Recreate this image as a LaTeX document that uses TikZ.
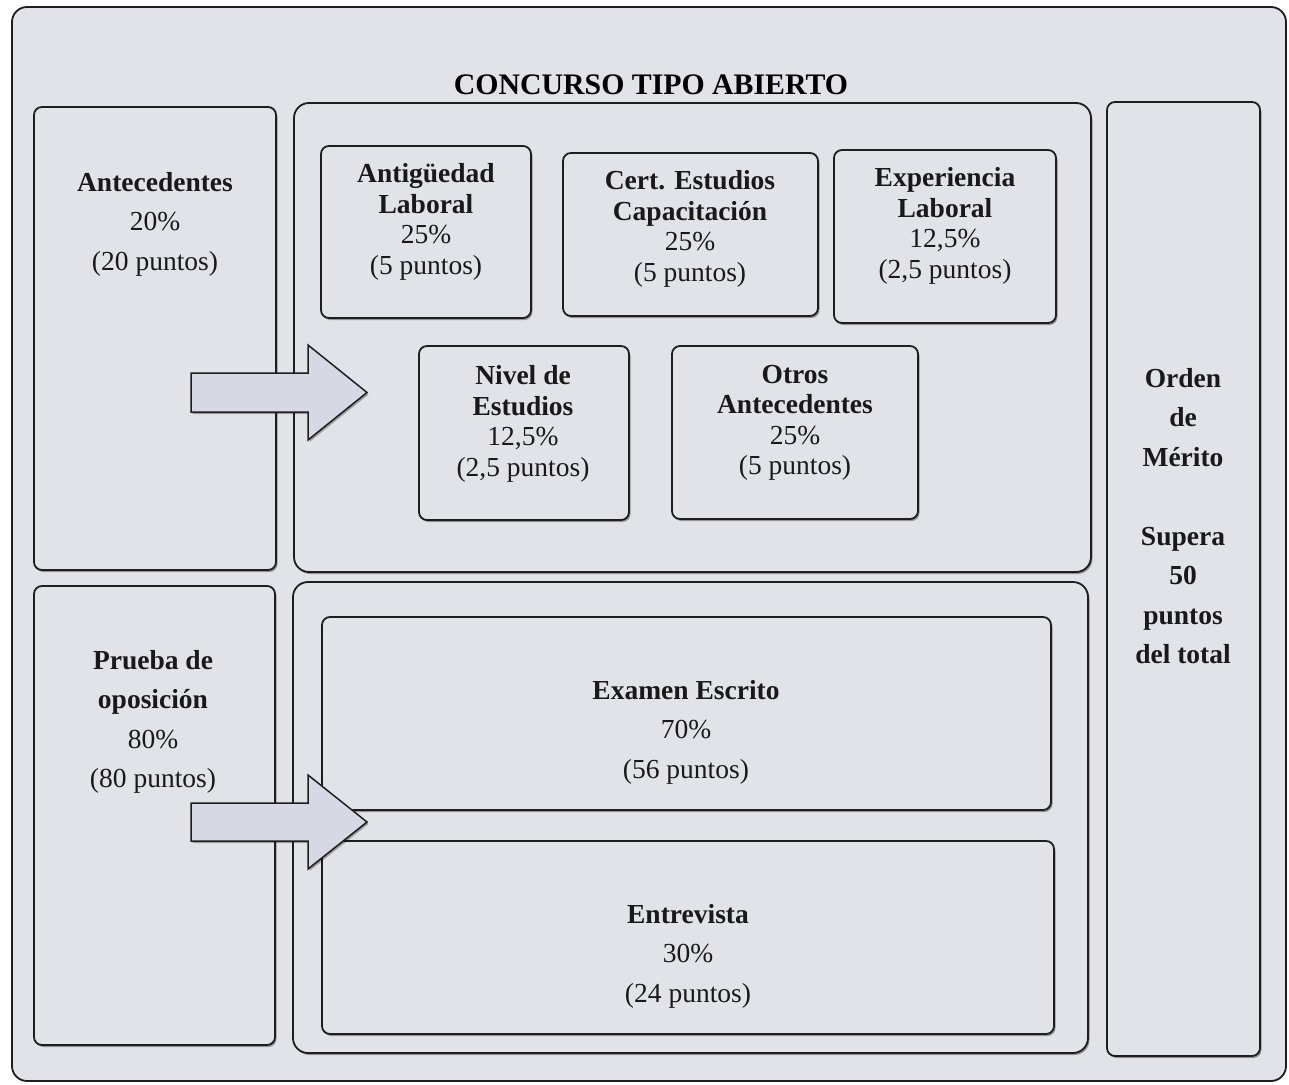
\documentclass[tikz,border=0pt]{standalone}
\usepackage{fontspec}
\setmainfont{Liberation Serif}
\usetikzlibrary{shadows}
\definecolor{bgc}{RGB}{226,226,233}
\definecolor{arrc}{RGB}{216,216,228}
\definecolor{linec}{RGB}{30,30,30}
\begin{document}
\begin{tikzpicture}[x=1pt,y=-1pt,
  box/.style={draw=linec,line width=1.8pt,fill=bgc,rounded corners=8pt,inner sep=0pt,
    drop shadow={shadow xshift=1.5pt,shadow yshift=-2pt,fill=black,opacity=0.35}},
  cont/.style={box,rounded corners=15pt},
  txt/.style={align=center,inner sep=0pt,text=black!90,font=\fontsize{27.5}{30.5}\selectfont},
  txtw/.style={align=center,inner sep=0pt,text=black!90,font=\fontsize{27.5}{39.5}\selectfont},
  arrowshape/.style={draw=linec,line width=1.5pt,fill=arrc,
    drop shadow={shadow xshift=1.5pt,shadow yshift=-2pt,fill=black,opacity=0.3}}]
\fill[white] (0,0) rectangle (1289,1084);
\path[use as bounding box] (0,0) rectangle (1289,1084);
% outer frame
\draw[draw=linec,line width=1.8pt,fill=bgc,rounded corners=15pt] (12,7) rectangle (1286,1081);
% title
\node[inner sep=0pt,font=\fontsize{29.8}{32}\selectfont\bfseries] (title) at (651,85) {CONCURSO TIPO ABIERTO};
% left boxes
\node[box,minimum width=242pt,minimum height=463pt] (antec) at (155,338.5) {};
\node[box,minimum width=241pt,minimum height=459pt] (prueba) at (154.5,815.5) {};
% containers
\node[cont,minimum width=797pt,minimum height=469pt] (upper) at (692.5,337.5) {};
\node[cont,minimum width=795pt,minimum height=471pt] (lower) at (690.5,817.5) {};
% right box
\node[box,minimum width=153pt,minimum height=954pt] (orden) at (1183.5,579) {};
% inner boxes upper
\node[box,minimum width=210pt,minimum height=172pt] (antig) at (426,232) {};
\node[box,minimum width=255pt,minimum height=163pt] (cert) at (690.5,234.5) {};
\node[box,minimum width=222pt,minimum height=173pt] (exper) at (945,236.5) {};
\node[box,minimum width=210pt,minimum height=174pt] (nivel) at (524,433) {};
\node[box,minimum width=246pt,minimum height=173pt] (otros) at (795,432.5) {};
% inner boxes lower
\node[box,minimum width=729pt,minimum height=193pt] (examen) at (686.5,713.5) {};
\node[box,minimum width=732pt,minimum height=193pt] (entrev) at (688,937.5) {};
% arrows
\draw[arrowshape] (191,373) -- (308,373) -- (308,345) -- (367,392.5) -- (308,440) -- (308,412) -- (191,412) -- cycle;
\draw[arrowshape] (191,803) -- (308,803) -- (308,775) -- (367,822) -- (308,869) -- (308,841) -- (191,841) -- cycle;
% texts
\node[txtw] (tantec) at (155,224) {\textbf{Antecedentes}\\20\%\\(20 puntos)};
\node[txtw] (tprueba) at (153,722) {\textbf{Prueba de}\\\textbf{oposición}\\80\%\\(80 puntos)};
\node[txt] (tantig) at (426,222) {\textbf{Antigüedad}\\\textbf{Laboral}\\25\%\\(5 puntos)};
\node[txt] (tcert) at (690,229) {\textbf{Cert. Estudios}\\\textbf{Capacitación}\\25\%\\(5 puntos)};
\node[txt] (texper) at (945,226) {\textbf{Experiencia}\\\textbf{Laboral}\\12,5\%\\(2,5 puntos)};
\node[txt] (tnivel) at (523,424) {\textbf{Nivel de}\\\textbf{Estudios}\\12,5\%\\(2,5 puntos)};
\node[txt] (totros) at (795,423) {\textbf{Otros}\\\textbf{Antecedentes}\\25\%\\(5 puntos)};
\node[txtw] (texamen) at (686,732) {\textbf{Examen Escrito}\\70\%\\(56 puntos)};
\node[txtw] (tentrev) at (688,956) {\textbf{Entrevista}\\30\%\\(24 puntos)};
\node[txtw,font=\fontsize{27.5}{39.5}\selectfont\bfseries] (torden) at (1183,516) {Orden\\de\\Mérito\\[39.5pt]Supera\\50\\puntos\\del total};
\end{tikzpicture}
\end{document}
